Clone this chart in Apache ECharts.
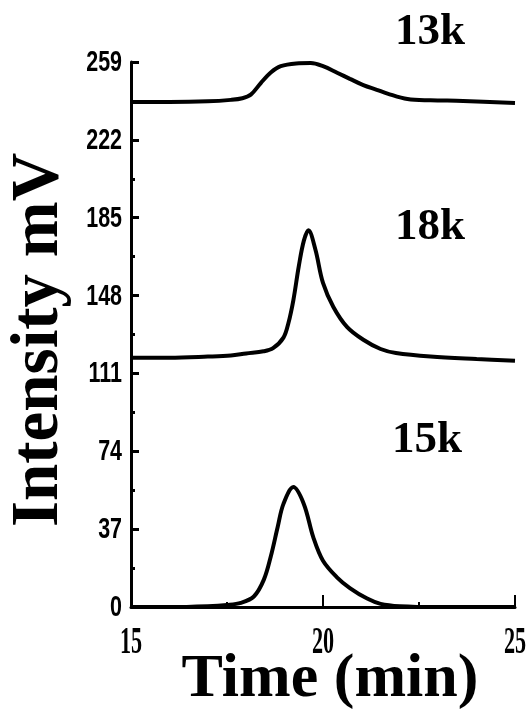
<!DOCTYPE html>
<html>
<head>
<meta charset="utf-8">
<script src="https://cdn.jsdelivr.net/npm/echarts@6/dist/echarts.min.js"></script>
<style>
  html, body { margin: 0; padding: 0; background: #fff; }
  #chart { width: 528px; height: 719px; }
</style>
</head>
<body>
<div id="chart"></div>
<script>
// Elution traces: [time (min), intensity (mV)]
const trace13k = [
  [15, 240], [16, 240], [17, 240.3], [17.6, 241], [17.9, 241.8], [18.12, 243.5], [18.38, 249],
  [18.64, 254], [18.9, 257], [19.3, 258.3], [19.68, 258.5], [20.0, 257],
  [20.38, 253.8], [20.7, 251], [21.05, 248], [21.4, 245.8], [21.68, 244],
  [22.2, 241.4], [22.8, 240.8], [23.65, 240.5], [25, 239.5]
];
const trace18k = [
  [15, 118.5], [16, 118.5], [17, 119], [17.6, 119.5], [18.0, 120.5], [18.45, 121.5],
  [18.7, 123], [18.97, 128], [19.1, 135], [19.23, 146], [19.37, 162], [19.5, 174],
  [19.62, 179], [19.8, 170], [20.0, 154], [20.27, 142.6], [20.63, 133], [21.05, 127],
  [21.5, 122.6], [21.9, 120.7], [22.8, 119], [24, 117.8], [25, 117]
];
const trace15k = [
  [15, 0], [16, 0], [17, 0.4], [17.5, 1], [17.86, 2], [18.2, 5], [18.46, 13],
  [18.64, 24], [18.82, 38], [18.97, 49], [19.23, 57], [19.5, 49], [19.75, 33],
  [20.0, 22], [20.37, 14], [20.7, 9], [21.15, 4], [21.5, 1.5], [22, 0.4], [23, 0], [25, 0]
];

const xTicks = [15, 20, 25];
const yTicks = [0, 37, 74, 111, 148, 185, 222, 259];
const traceNames = ['13k', '18k', '15k'];

const chart = echarts.init(document.getElementById('chart'));

const serif = '"Liberation Serif", "DejaVu Serif", serif';
const sans = '"Liberation Sans", Arial, sans-serif';

function lineSeries(name, data) {
  return {
    name: name,
    type: 'line',
    data: data,
    smooth: 0.35,
    showSymbol: false,
    lineStyle: { color: '#000', width: 4 },
    z: 3
  };
}

chart.setOption({
  backgroundColor: '#fff',
  animation: false,
  grid: { left: 131, right: 13, top: 62, bottom: 112, outerBoundsMode: 'none', containLabel: false },
  xAxis: {
    type: 'value',
    min: xTicks[0],
    max: xTicks[xTicks.length - 1],
    interval: xTicks[1] - xTicks[0],
    axisLine: { show: true, onZero: false, lineStyle: { color: '#000', width: 3 } },
    axisTick: { show: true, inside: true, length: 12, lineStyle: { color: '#000', width: 2 } },
    minorTick: { show: true, splitNumber: 2, length: 5, lineStyle: { color: '#000', width: 2 } },
    splitLine: { show: false },
    axisLabel: { show: false }
  },
  yAxis: {
    type: 'value',
    min: yTicks[0],
    max: yTicks[yTicks.length - 1],
    interval: yTicks[1] - yTicks[0],
    axisLine: { show: true, lineStyle: { color: '#000', width: 3 } },
    axisTick: { show: true, inside: true, length: 8, lineStyle: { color: '#000', width: 3 } },
    minorTick: { show: true, splitNumber: 2, length: 4, lineStyle: { color: '#000', width: 3 } },
    splitLine: { show: false },
    axisLabel: { show: false }
  },
  series: [
    lineSeries(traceNames[0], trace13k),
    lineSeries(traceNames[1], trace18k),
    lineSeries(traceNames[2], trace15k)
  ]
});

// Condensed tick labels, placed at the axis scale positions
const graphics = [];
xTicks.forEach(function (t) {
  const p = chart.convertToPixel({ gridIndex: 0 }, [t, 0]);
  graphics.push({
    type: 'text', x: p[0], y: p[1] + 36, scaleX: 0.6,
    style: {
      text: String(t), font: 'bold 37px ' + serif, fill: '#000',
      textAlign: 'center', textVerticalAlign: 'middle'
    }
  });
});
yTicks.forEach(function (v) {
  const p = chart.convertToPixel({ gridIndex: 0 }, [xTicks[0], v]);
  graphics.push({
    type: 'text', x: p[0] - 9, y: p[1] + 1, scaleX: 0.74,
    style: {
      text: String(v), font: 'bold 29px ' + sans, fill: '#000',
      textAlign: 'right', textVerticalAlign: 'middle'
    }
  });
});

// Trace names
graphics.push(
  { type: 'text', left: 395, top: 10,
    style: { text: traceNames[0], font: 'bold 45px ' + serif, fill: '#000' } },
  { type: 'text', left: 395, top: 205,
    style: { text: traceNames[1], font: 'bold 45px ' + serif, fill: '#000' } },
  { type: 'text', left: 392, top: 418,
    style: { text: traceNames[2], font: 'bold 45px ' + serif, fill: '#000' } }
);

// Axis titles
graphics.push(
  { type: 'text', x: 40, y: 340, rotation: Math.PI / 2,
    style: { text: 'Intensity mV', font: 'bold 67px ' + serif, fill: '#000',
             textAlign: 'center', textVerticalAlign: 'middle' } },
  { type: 'text', x: 330, y: 680,
    style: { text: 'Time (min)', font: 'bold 62px ' + serif, fill: '#000',
             textAlign: 'center', textVerticalAlign: 'middle' } }
);

chart.setOption({ graphic: graphics });
</script>
</body>
</html>
